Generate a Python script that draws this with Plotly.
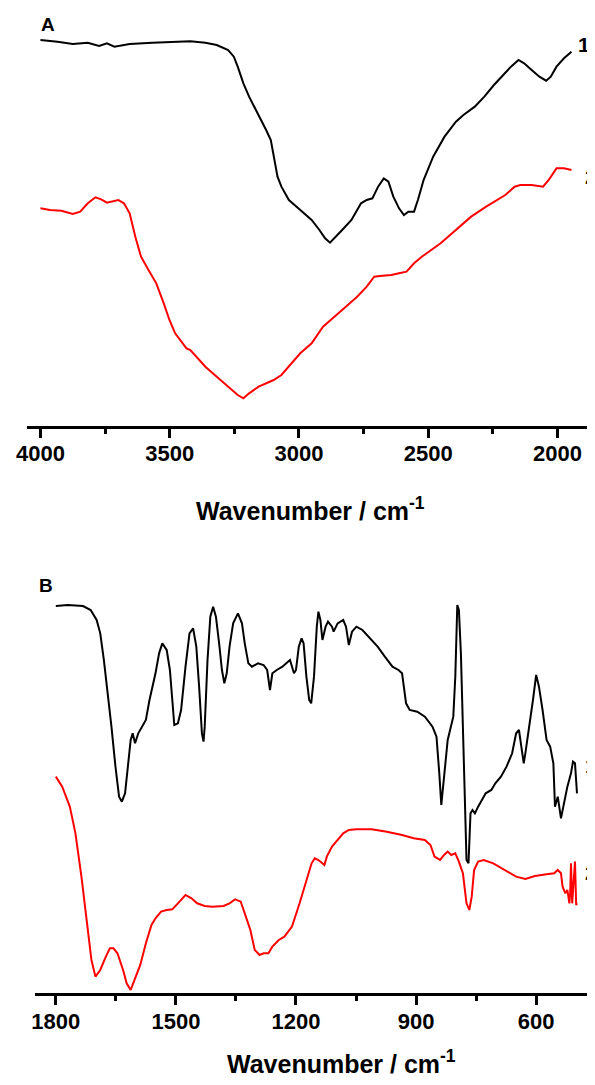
import plotly.graph_objects as go

# ---------------- Panel A (4000-1950 cm-1) ----------------
a1_wn = [4000, 3934, 3875, 3817, 3773, 3743, 3714, 3655, 3567, 3494, 3420, 3362, 3318, 3274,
         3252, 3237, 3215, 3193, 3156, 3127, 3109, 3098, 3083, 3068, 3039, 2995, 2951, 2921,
         2899, 2880, 2863, 2833, 2797, 2760, 2738, 2716, 2694, 2672, 2654, 2635, 2613, 2594,
         2577, 2555, 2540, 2518, 2481, 2437, 2393, 2364, 2320, 2283, 2246, 2217, 2180, 2151,
         2129, 2100, 2070, 2044, 2026, 2004, 1975, 1946]
a1_t = [116.0, 115.5, 114.8, 115.2, 114.2, 115.0, 114.0, 114.8, 115.2, 115.5, 115.6, 115.2, 114.5, 113.0,
        111.0, 108.0, 103.0, 99.0, 93.5, 89.0, 86.0, 81.0, 75.0, 72.0, 68.0, 65.0, 62.0, 59.0,
        56.5, 55.2, 56.5, 59.0, 62.0, 67.0, 68.0, 68.5, 72.0, 74.5, 73.5, 69.0, 65.5, 63.5,
        64.5, 64.5, 68.0, 74.0, 81.0, 87.0, 91.5, 93.5, 96.0, 99.0, 102.5, 105.0, 108.0, 110.0,
        109.0, 107.0, 105.0, 103.8, 105.0, 108.0, 110.5, 112.5]

a2_wn = [4000, 3963, 3919, 3875, 3846, 3817, 3787, 3765, 3743, 3714, 3699, 3677, 3655, 3633,
         3611, 3582, 3552, 3523, 3501, 3479, 3450, 3435, 3420, 3398, 3362, 3318, 3274, 3237,
         3215, 3193, 3156, 3098, 3068, 3039, 2995, 2951, 2907, 2863, 2819, 2775, 2738, 2709,
         2687, 2643, 2613, 2584, 2555, 2525, 2452, 2393, 2334, 2276, 2232, 2202, 2180, 2166,
         2144, 2100, 2056, 2034, 2004, 1975, 1946]
a2_t = [65.5, 65.0, 64.8, 63.8, 64.5, 67.0, 68.8, 68.2, 67.2, 67.7, 68.0, 67.0, 64.0, 57.0,
        51.0, 47.0, 43.0, 37.0, 32.0, 28.0, 25.0, 23.5, 23.0, 21.0, 18.0, 15.0, 12.0, 9.5,
        8.5, 10.0, 12.0, 14.0, 15.5, 18.0, 22.0, 25.0, 30.0, 33.0, 36.0, 39.0, 42.0, 45.0,
        45.2, 45.5, 46.0, 46.5, 49.0, 51.0, 55.0, 59.0, 63.0, 66.0, 68.0, 69.5, 71.0, 72.0,
        72.5, 72.5, 72.0, 74.0, 77.5, 77.5, 77.0]

# ---------------- Panel B (1800-500 cm-1) ----------------
b1_wn = [1800, 1770, 1732, 1713, 1698, 1689, 1680, 1670, 1661, 1651, 1642, 1635, 1627, 1620,
         1613, 1608, 1602, 1594, 1585, 1575, 1566, 1551, 1542, 1534, 1523, 1515, 1509, 1504,
         1495, 1487, 1476, 1466, 1457, 1449, 1442, 1435, 1431, 1428, 1421, 1414, 1407, 1400,
         1392, 1385, 1379, 1373, 1366, 1357, 1345, 1335, 1328, 1319, 1310, 1295, 1281, 1272,
         1265, 1259, 1248, 1234, 1215, 1205, 1200, 1193, 1186, 1181, 1174, 1167, 1162, 1155,
         1148, 1144, 1139, 1134, 1126, 1120, 1110, 1106, 1096, 1082, 1075, 1068, 1060, 1049,
         1034, 1015, 996, 978, 959, 944, 935, 925, 916, 897, 878, 859, 849, 842, 837, 830,
         821, 807, 802, 797, 793, 788, 781, 774, 769, 764, 759, 753, 745, 736, 726, 712, 702,
         688, 674, 660, 650, 643, 636, 631, 627, 617, 608, 600, 593, 584, 574, 565, 557, 553,
         546, 538, 532, 522, 513, 508, 503, 498]
b1_t = [116.2, 116.5, 116.2, 115.0, 112.0, 108.0, 100.0, 90.0, 80.0, 68.0, 59.0, 57.5, 60.0, 68.0,
        76.0, 78.0, 75.0, 78.0, 80.0, 82.0, 88.0, 96.0, 102.0, 105.0, 103.0, 97.0, 88.0, 80.5,
        81.0, 85.0, 98.0, 108.0, 109.5, 104.0, 92.0, 78.0, 75.5, 80.0, 100.0, 113.0, 116.0, 113.0,
        105.0, 97.0, 93.0, 96.0, 104.0, 111.0, 114.0, 111.0, 105.0, 99.0, 98.0, 99.0, 98.5, 97.0,
        91.0, 96.0, 97.0, 98.0, 100.0, 96.0, 97.0, 104.0, 106.5, 105.0, 95.0, 88.0, 87.0, 95.0,
        110.0, 114.5, 112.0, 106.0, 110.0, 111.5, 110.0, 108.5, 111.0, 112.0, 110.0, 104.5, 108.5, 110.0,
        109.0, 106.5, 104.0, 101.0, 98.0, 97.0, 96.0, 87.0, 85.0, 84.5, 83.0, 80.0, 77.0, 66.0, 56.5, 65.0,
        76.0, 83.0, 95.0, 116.5, 115.0, 102.0, 70.0, 40.0, 39.0, 54.0, 55.0, 54.0, 56.0, 58.0, 60.0, 61.0, 63.0,
        65.0, 68.0, 72.0, 78.0, 79.0, 73.0, 69.0, 72.0, 80.0, 88.0, 95.5, 92.0, 85.0, 76.0, 74.0, 69.0, 56.0,
        59.0, 52.5, 56.0, 62.0, 66.0, 69.5, 69.0, 60.0]

b2_wn = [1800, 1784, 1765, 1751, 1736, 1722, 1711, 1701, 1689, 1675, 1665, 1656, 1646, 1632,
         1623, 1613, 1604, 1589, 1575, 1561, 1551, 1537, 1523, 1509, 1495, 1476, 1461, 1447,
         1428, 1409, 1381, 1366, 1352, 1338, 1328, 1314, 1303, 1291, 1281, 1269, 1259, 1243,
         1229, 1210, 1191, 1172, 1161, 1153, 1144, 1129, 1123, 1110, 1096, 1082, 1068, 1049,
         1011, 973, 935, 906, 878, 864, 854, 840, 830, 821, 812, 802, 793, 783, 774, 767, 761,
         755, 745, 731, 707, 679, 650, 627, 603, 574, 555, 546, 538, 534, 527, 522, 517, 515,
         513, 510, 506, 503, 500, 498]
b2_t = [65.0, 62.0, 56.0, 48.0, 35.0, 20.0, 10.0, 5.0, 7.0, 11.0, 13.5, 13.5, 12.0, 7.0,
        3.0, 1.0, 4.0, 8.5, 15.0, 20.5, 22.5, 24.5, 25.0, 25.2, 27.0, 29.5, 28.5, 27.0,
        26.2, 26.0, 26.2, 27.0, 28.2, 27.5, 24.0, 19.0, 13.0, 11.5, 12.0, 12.0, 14.0, 16.0,
        17.0, 20.0, 27.0, 35.0, 39.0, 40.5, 40.0, 38.5, 41.0, 44.0, 46.0, 48.0, 49.0, 49.2,
        49.2, 48.5, 47.5, 46.5, 46.0, 44.5, 41.0, 40.0, 41.5, 42.5, 41.5, 42.0, 39.5, 36.0, 27.0, 25.0, 29.0,
        37.0, 39.5, 40.0, 39.0, 37.0, 35.0, 34.3, 35.2, 35.7, 36.0, 37.0, 36.0, 32.0, 30.0, 31.0, 27.0, 30.0,
        39.0, 27.0, 34.0, 39.5, 26.5, 27.0]

top_ticks = [4000, 3500, 3000, 2500, 2000]
bot_ticks = [1800, 1500, 1200, 900, 600]
panel_labels = ["A", "B"]
curve_labels = ["1", "2"]
axis_title = "Wavenumber / cm<sup>-1</sup>"

# The page body keeps its default 8 px margin; size the figure so it fills the
# 595x1085 window exactly without overflowing (no scrollbars).
OFF = 8
WIN_W, WIN_H = 595, 1085
W, H = WIN_W - OFF, WIN_H - 2 * OFF
FONT = "Liberation Sans, Arial, Helvetica, sans-serif"

fig = go.Figure()
fig.add_trace(go.Scatter(x=a1_wn, y=a1_t, mode="lines", line=dict(color="black", width=2),
                         xaxis="x", yaxis="y", showlegend=False))
fig.add_trace(go.Scatter(x=a2_wn, y=a2_t, mode="lines", line=dict(color="#ff0000", width=2),
                         xaxis="x", yaxis="y", showlegend=False))
fig.add_trace(go.Scatter(x=b1_wn, y=b1_t, mode="lines", line=dict(color="black", width=2),
                         xaxis="x2", yaxis="y2", showlegend=False))
fig.add_trace(go.Scatter(x=b2_wn, y=b2_t, mode="lines", line=dict(color="#ff0000", width=2),
                         xaxis="x2", yaxis="y2", showlegend=False))

def px_x(p):
    return (p - OFF) / W

def px_y(p):
    return 1 - (p - OFF) / H

tick_font = dict(family=FONT, size=22, color="black", weight="bold")
common_x = dict(showline=True, linewidth=3, linecolor="black", ticks="outside", ticklen=9,
                tickwidth=3, tickcolor="black", showgrid=False, zeroline=False,
                tickfont=tick_font, fixedrange=True, automargin=False, ticklabelstandoff=-3)

fig.update_layout(
    width=W, height=H, margin=dict(l=0, r=0, t=0, b=0, pad=0, autoexpand=False),
    paper_bgcolor="white", plot_bgcolor="white",
    xaxis=dict(domain=[px_x(27), 1.0], range=[4052, 1855], anchor="y",
               tickvals=top_ticks, ticktext=[str(v) for v in top_ticks],
               minor=dict(dtick=250, tick0=4000, ticks="outside", ticklen=5, tickwidth=3,
                          tickcolor="black", showgrid=False),
               **common_x),
    yaxis=dict(domain=[px_y(426), 1.0], range=[0.2, 125.6], visible=False, anchor="x",
               automargin=False),
    xaxis2=dict(domain=[px_x(35), 1.0], range=[1852, 453], anchor="y2",
                tickvals=bot_ticks, ticktext=[str(v) for v in bot_ticks],
                minor=dict(dtick=150, tick0=1800, ticks="outside", ticklen=5, tickwidth=3,
                           tickcolor="black", showgrid=False),
                **common_x),
    yaxis2=dict(domain=[px_y(993.3), px_y(550)], range=[0, 133], visible=False, anchor="x2",
                automargin=False),
)

def label(text, x, y, size, xanchor="center"):
    fig.add_annotation(text=text, x=px_x(x), y=px_y(y), xref="paper", yref="paper",
                       showarrow=False, xanchor=xanchor, yanchor="middle",
                       font=dict(family=FONT, size=size, color="black", weight="bold"))

label(panel_labels[0], 48, 24, 19)
label(panel_labels[1], 46, 585, 19)
label(curve_labels[0], 584, 45, 21)
label(curve_labels[1], 591, 176, 21)
label(curve_labels[0], 591, 765, 21)
label(curve_labels[1], 591, 872, 21)
label(axis_title, 310, 509, 25)
label(axis_title, 341, 1062, 25)

fig.write_html("out.html")
